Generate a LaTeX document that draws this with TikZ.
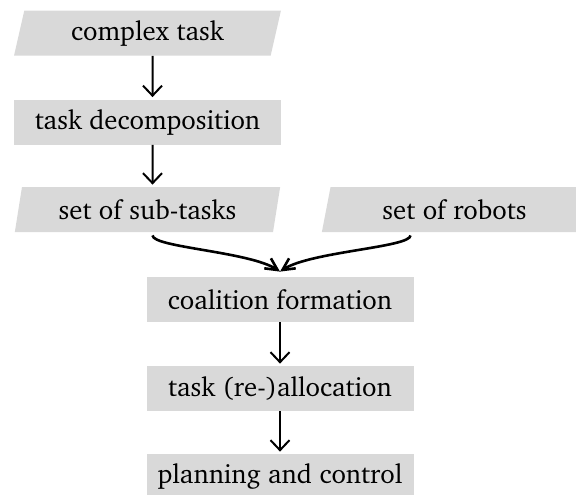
\documentclass[tikz,border=0pt]{standalone}
\usepackage[T1]{fontenc}
\usepackage{charter}
\usetikzlibrary{shapes.geometric,arrows.meta}
\begin{document}
\begin{tikzpicture}[x=0.5pt,y=-0.5pt,
    box/.style={fill=black!15,minimum width=133.5pt,minimum height=22.5pt,inner sep=0pt,
      font=\fontsize{13.4pt}{16pt}\selectfont},
    slanted/.style={box,trapezium,trapezium left angle=76,trapezium right angle=104,
      trapezium stretches=true},
    flow/.style={line width=1pt,-{Straight Barb[length=5pt,width=9.5pt]},shorten >=1pt},
    merge/.style={line width=1.3pt,-{Straight Barb[length=6pt,width=6pt]},shorten <=1.5pt}]
  \useasboundingbox (0,0) rectangle (576,494);
  \node[slanted] (ct) at (147.5,33) {complex task};
  \node[box] (td) at (147.5,122) {task decomposition};
  \node[slanted] (st) at (147.5,209.5) {set of sub-tasks};
  \node[slanted] (sr) at (454.5,209.5) {set of robots};
  \node[box] (cf) at (280,299.5) {coalition formation};
  \node[box] (ta) at (280,388.5) {task (re-)allocation};
  \node[box] (pc) at (280,476.5) {planning and control};
  \coordinate (join) at ([yshift=2.5pt]cf.north);
  \draw[flow] ([xshift=2.5pt]ct.south) -- ([xshift=2.5pt]td.north);
  \draw[flow] ([xshift=2.5pt]td.south) -- ([xshift=2.5pt]st.north);
  \draw[merge] ([xshift=2.5pt]st.south) .. controls +(0,15) and +(-30,-20) .. (join);
  \draw[merge] ([xshift=-22pt]sr.south) .. controls +(0,15) and +(30,-20) .. (join);
  \draw[flow] (cf) -- (ta);
  \draw[flow] (ta) -- (pc);
\end{tikzpicture}
\end{document}
